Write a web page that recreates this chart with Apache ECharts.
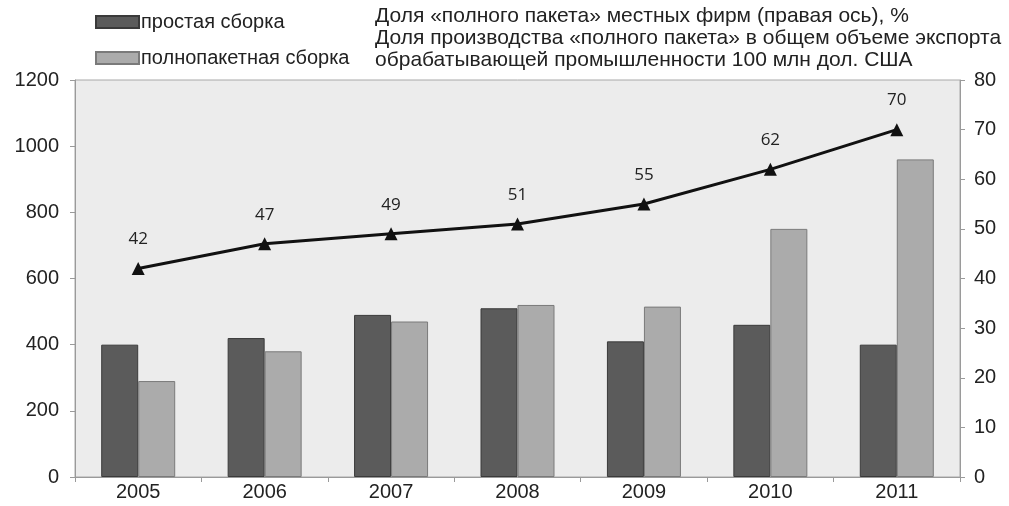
<!DOCTYPE html>
<html>
<head>
<meta charset="utf-8">
<script src="https://cdn.jsdelivr.net/npm/echarts@6/dist/echarts.min.js"></script>
<style>
  html, body { margin: 0; padding: 0; background: #fff; }
  #chart { width: 1009px; height: 506px; }
</style>
</head>
<body>
<div id="chart"></div>
<script>
// Years on the category axis
const years = ['2005', '2006', '2007', '2008', '2009', '2010', '2011'];
// Exports, 100 mln USD
const simpleAssembly = [400, 420, 490, 510, 410, 460, 400];
const fullPackage = [290, 380, 470, 520, 515, 750, 960];
// Share of "full package" local firms, % (right axis)
const fullPackageShare = [42, 47, 49, 51, 55, 62, 70];

const seriesNames = ['простая сборка', 'полнопакетная сборка'];
const noteLines = [
  'Доля «полного пакета» местных фирм (правая ось), %',
  'Доля производства «полного пакета» в общем объеме экспорта',
  'обрабатывающей промышленности 100 млн дол. США'
];

const FONT = 'Liberation Sans, Arial, sans-serif';
const plain = v => String(v);

const chart = echarts.init(document.getElementById('chart'));
chart.setOption({
  animation: false,
  backgroundColor: '#ffffff',
  title: {
    text: noteLines.join('\n'),
    left: 370,
    top: 0,
    textStyle: { fontFamily: FONT, fontSize: 21, fontWeight: 'normal', color: '#222', lineHeight: 22 }
  },
  legend: {
    data: seriesNames,
    orient: 'vertical',
    left: 90,
    top: 7,
    icon: 'rect',
    itemWidth: 43,
    itemHeight: 12,
    itemGap: 16,
    textStyle: { fontFamily: FONT, fontSize: 20, color: '#222', padding: [0, 0, 0, -3] }
  },
  grid: {
    left: 75, right: 49, top: 80, bottom: 29,
    show: true,
    backgroundColor: '#ececec',
    borderColor: '#a8a8a8',
    borderWidth: 1
  },
  xAxis: {
    type: 'category',
    data: years,
    axisLine: { lineStyle: { color: '#9a9a9a', width: 1 } },
    axisTick: { show: true, length: 5, lineStyle: { color: '#9a9a9a' } },
    axisLabel: { fontFamily: FONT, fontSize: 20, color: '#222', margin: 5 }
  },
  yAxis: [
    {
      type: 'value', min: 0, max: 1200, interval: 200, position: 'left',
      axisLine: { show: true, lineStyle: { color: '#9a9a9a' } },
      axisTick: { show: true, length: 5, lineStyle: { color: '#9a9a9a' } },
      splitLine: { show: false },
      axisLabel: { fontFamily: FONT, fontSize: 20, color: '#222', margin: 16, formatter: plain }
    },
    {
      type: 'value', min: 0, max: 80, interval: 10, position: 'right',
      axisLine: { show: true, lineStyle: { color: '#9a9a9a' } },
      axisTick: { show: true, length: 5, lineStyle: { color: '#9a9a9a' } },
      splitLine: { show: false },
      axisLabel: { fontFamily: FONT, fontSize: 20, color: '#222', margin: 14, formatter: plain }
    }
  ],
  series: [
    {
      name: seriesNames[0],
      type: 'bar',
      data: simpleAssembly,
      barWidth: 37,
      barGap: '0%',
      itemStyle: { color: '#5b5b5b', borderColor: '#3a3a3a', borderWidth: 1 }
    },
    {
      name: seriesNames[1],
      type: 'bar',
      data: fullPackage,
      barWidth: 37,
      itemStyle: { color: '#ababab', borderColor: '#7a7a7a', borderWidth: 1 }
    },
    {
      name: 'line',
      type: 'line',
      yAxisIndex: 1,
      data: fullPackageShare,
      symbol: 'triangle',
      symbolSize: 13,
      lineStyle: { color: '#111', width: 3 },
      itemStyle: { color: '#111' },
      label: {
        show: true,
        position: 'top',
        distance: 14,
        fontFamily: 'Open Sans, DejaVu Sans, sans-serif',
        fontSize: 17,
        color: '#222'
      },
      z: 5
    }
  ]
});
</script>
</body>
</html>
